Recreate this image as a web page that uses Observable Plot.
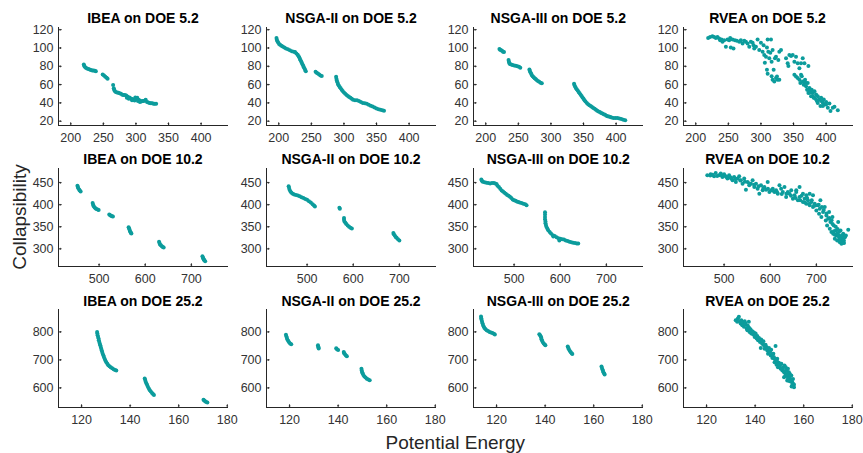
<!DOCTYPE html>
<html>
<head>
<meta charset="utf-8">
<script src="https://cdn.jsdelivr.net/npm/d3@7"></script>
<script src="https://cdn.jsdelivr.net/npm/@observablehq/plot@0.6"></script>
<style>
  html, body { margin: 0; padding: 0; background: #ffffff; }
  #chart { position: relative; width: 863px; height: 453px; overflow: hidden; font-family: "Liberation Sans", Arial, sans-serif; }
  #chart svg.panel { position: absolute; }
  #overlay { position: absolute; left: 0; top: 0; pointer-events: none; }
</style>
</head>
<body>
<div id="chart"></div>
<script>
// ---------- tick labels ----------
const xTicks5 = [200, 250, 300, 350, 400];
const yTicks5 = [20, 40, 60, 80, 100, 120];
const xTicks10 = [500, 600, 700];
const yTicks10 = [300, 350, 400, 450];
const xTicks25 = [120, 140, 160, 180];
const yTicks25 = [600, 700, 800];

// ---------- categories ----------
const algorithms = ["IBEA", "NSGA-II", "NSGA-III", "RVEA"];
const cases = ["5.2", "10.2", "25.2"];

// ---------- series values: [Potential Energy, Collapsibility] ----------
const ibea5 = [[220,82],[220.5,80.5],[221.5,79.5],[223,78.5],[225,77.5],[227,77],[229,76.5],[231,76],[233,75.5],[235,75.5],[237,75],[238.5,74.5],
[249,71],[251,70],[253,68.5],[255,67.5],[256.5,66.5],[265,59.5],
[266,56],[266.5,54.5],[267.5,53],[269,52],[271,51.5],[273,51],[275,50.5],[277,50],[279,49],[281,48.5],[283,48.5],[285,48],[287,47],[288,46],[290,46],[291,45],[293,44.5],[295,44],[297,43.5],[299,46],[300,44],[302,45.5],[304,43.5],[306,42.5],[308,41.5],[310,42],[312,42],[314,42.5],[315,43.5],[317,41],[319,40.5],[321,40],[323,39.5],[325,39.5],[327,39],[329,39],[331,39],
[286,45.5],[289,44.5],[294,43],[298,42.5],[303,42],[306,41]];

const nsga2_5 = [[196.5,111],[197,109],[198,107.5],[199,106],[200.5,104.5],[202,103.5],[204,102.5],[206,101.5],[208.5,100.5],[211,99.5],[214,98.5],[217,97.5],[220,96.5],[223,96],[225,95.5],[227,94],[229,92.5],[230.5,91],[231.5,89.5],[232.5,88],[233.5,86.5],[234.5,85],[235.5,83.5],[236.5,82],[237.5,80.5],[238.5,79],[239.5,77.5],[240.5,76],[241.5,74.5],
[256.5,74],[258,73],[260,72],[262,71],[264,70],[266,69.5],
[288,68.5],[288.5,66.5],[289,64.5],[290,62.5],[291,60.5],[292,59],[293.5,57.5],[295,56],[296.5,54.5],[298,53],[300,51.5],[302,50],[304,48.5],[306,47.5],[308,46.5],[310,45.5],[312,44.5],[314,43.5],[317,43],[320,43],[323,42],[326,41],[329,40],[332,39.5],[335,39],[338,38],[341,37],[344,36],[347,35],[350,34],[353,33],[356,32.5],[359,32],[361.5,31.5]];

const nsga3_5 = [[221,99],[222,98],[223.5,97.5],[225,97],[226.5,96],[228,95.5],
[235,87],[235.5,85],[236,83.5],[237,82.5],[239,82],[241,81.5],[243.5,81],[246,80.5],[248.5,80],[251,79.5],[253,78.5],
[267,76.5],[267.5,75],[268.5,73.5],[269.5,72],[270.5,70.5],[272,69],[273.5,68],[275,67],[276.5,66],[278,65],[280,64],[282,63],[284,62],[286,61.5],
[335.5,61],[336,59.5],[337,58],[338,56.5],[339.5,55],[341,53.5],[342.5,52],[344,50.5],[345.5,49],[347,47.5],[348.5,46],[350,44.5],[351.5,43],[353,41.5],[355,40],[357,38.5],[359,37.5],[361,36.5],[363,35.5],[365,34.5],[367,33.5],[369,32.5],[371,31.5],[373,30.5],[375,30],[377,29],[379,28.5],[381,27.5],[383,27],[385,26],[387,25.5],[389,25],[391,24.5],[393,24],[396,23.5],[399,23.5],[402,23.5],[405,23],[408,22.5],[411,21.5],[414,21]];

const rvea5 = [[219,111],[222,112.1],[225.6,112.8],[228.2,112.1],[230.8,111],[233.3,112.1],[235.9,110.3],[237.4,108.5],[239.5,109.2],[241,106.7],[243.6,108.5],[246.2,101.3],[248.7,109.2],[251.3,108.5],[252.8,111],[253.8,100.6],[256.4,109.2],[257.9,99.5],[260,108.5],[263.1,107.8],[266.7,106.7],[269.2,108.5],[271.8,104.9],[274.4,107.8],[276.9,106.7],[279.5,104.9],[282.1,101.3],[284.6,106.7],[287.2,105.6],[288.7,103.1],[289.7,99.5],[292.3,101.3],[294.9,109.2],[297.4,97.7],[300,105.6],[302.6,95.9],[304.1,103.1],[305.1,92.3],[307.7,90.5],[309.2,100.6],[310.3,109.2],[311.3,95.9],[312.8,88.7],[314.4,94.8],[315.4,109.2],[316.4,85.1],[317.9,97.7],[319.5,76.1],[321.5,88.7],[323.1,90.5],[324.6,68.9],[325.6,65.3],[326.7,86.9],[328.2,95.9],[330.8,97.7],[309.2,76.1],[310.3,71.8],[317.9,65.3],[320.5,63.5],[323.1,67.1],[328.2,65.3],[306,84],[316.4,69],
[338.5,88.7],[341,83.3],[342.1,80.4],[343.6,92.3],[346.2,91.2],[348.7,92.3],[351.3,85.1],[353.8,90.5],[356.4,83.3],[359,77.9],[361.5,83.3],[364.1,88.7],[366.7,83.3],[372.8,80.4],[351.3,70.7],[353.8,68.9],[356.4,67.1],[359,65.3],[360.5,61.7],[361.5,70.7],[364.1,63.5],[365.6,59.9],[367.7,65.3],[369.2,58.1],[370.8,54.5],[371.8,61.7],[372.8,50.9],[374.4,56.3],[375.9,52.7],[376.9,47.3],[377.9,54.5],[379.5,50.9],[381,45.5],[382.1,52.7],[384.6,49.1],[386.2,41.9],[387.2,47.3],[389.7,43.7],[391.3,36.5],[392.3,45.5],[394.9,40.1],[396.4,43.7],[397.4,38.3],[400,40.9],[402.6,34.7],[405.1,39.4],[406.7,31.2],[410.3,34.7],[412.8,35.8],[417.9,31.9],
[362.6,69],[366.7,63.5],[369,61.7],[372,54.5],[374.4,51],[379.5,47.3],[382,45.5],[384.6,43.7],[387.2,40],[392.3,42],[395,36.5],[400,38.3]];

const ibea10 = [[453,443],[454,440],[455,437],[457,434],[458,432],[460,430],
[486,404],[487,400],[488,397],[490,394],[492,392],[494,390],[497,389],[499,388],
[522,378],[524,376],[526,375],[528,374],[530,373],
[564,349],[565,346],[566,343],[567,340],[568,338],[569,336],[570,335],
[630,316],[631,313],[632,310],[634,308],[636,306],[638,304],[640,303],
[724,283],[725,280],[726,278],[727,276],[728,274],[730,272]];

const nsga2_10 = [[460,442],[461,438],[462,434],[464,430],[466,427],[469,425],[472,423],[476,422],[480,421],[484,419],[488,417],[492,415],[496,413],[500,411],[504,408],[508,405],[512,401],[515,398],[517,396],
[570,393],[571,391],
[580,370],[580,366],[581,362],[583,359],[585,356],[588,353],[591,350],[594,348],[597,346],
[687,336],[688,333],[690,330],[692,327],[694,325],[697,322],[700,319]];

const nsga3_10 = [[429,457],[430,454],[432,452],[436,451],[440,450],[444,449],[448,448],[452,449],[456,449],[459,448],[462,447],[464,443],[467,440],[470,436],[473,432],[476,430],[479,427],[482,425],[485,422],[488,420],[491,418],[494,415],[497,412],[500,410],[503,409],[506,407],[509,406],[512,405],[516,404],[520,402],[524,401],[527,399],
[567,383],[567,378],[567,372],[567,367],[568,362],[568,358],[569,354],[570,350],[572,346],[574,342],[577,338],[580,335],[584,331],[588,329],[592,326],[596,324],[600,323],[604,322],[608,321],[612,319],[616,318],[620,316],[624,315],[628,314],[632,313],[636,312],[639,312],[598,319],[585,328]];

const rvea10 = [[463.6,466.7],[470.9,468.9],[478.2,464.4],[481.8,472],[489.1,466.7],[492.7,470.5],[496.4,462.9],[500,468.9],[503.6,464.4],[507.3,459.1],[510.9,466.7],[514.5,461.4],[518.2,455.3],[521.8,462.9],[525.5,451.5],[529.1,459.1],[532.7,464.4],[536.4,455.3],[540,447.7],[543.6,459.1],[547.3,434.1],[550.9,451.5],[554.5,443.9],[558.2,447.7],[561.8,455.3],[565.5,440.2],[569.1,447.7],[572.7,436.4],[576.4,425],[580,443.9],[583.6,432.6],[587.3,440.2],[590.9,434.1],[594.5,451.5],[598.2,428.8],[601.8,432.6],[605.5,436.4],[609.1,428.8],[612.7,432.6],[616.4,425],[620,443.9],[623.6,436.4],[627.3,428.8],[630.9,440.2],[634.5,417.4],[638.2,428.8],[641.8,425],[645.5,432.6],[649.1,413.6],[652.7,421.2],[656.4,428.8],[660,409.8],[663.6,417.4],[670.9,406.1],[674.5,413.6],[678.2,402.3],[681.8,409.8],[685.5,398.5],[689.1,406.1],[692.7,394.7],[696.4,402.3],[700,387.1],[703.6,398.5],[705.8,379.5],[707.3,390.9],[708.7,409.8],[710.9,372],[714.5,383.3],[718.2,394.7],[720.4,364.4],[721.8,375.8],[723.3,353],[725.5,368.2],[727.6,383.3],[729.1,345.5],[730.5,360.6],[732.7,337.9],[734.9,372],[736.4,334.1],[737.8,353],[740,322.7],[742.2,341.7],[743.6,330.3],[745.1,318.9],[747.3,360.6],[749.5,326.5],[750.9,315.2],[752.4,341.7],[754.5,311.4],[756.7,322.7],[758.2,334.1],[759.6,318.9],[761.8,326.5],[764,330.3],[769.1,343.2],[692.7,421.2],[685.5,425],[678.2,421.2],[670.9,425],[663.6,440.2],[656.4,432.6],
[745,335],[748,330],[750,322],[752,318],[755,316],[757,313],[753,325],[746,345],[742,350],[738,340],[735,356],[740,332],[758,320],[760,313],[733,365],[728,370],[722,380],[716,388],[712,395],[705,400],[698,398],[690,410],[680,415],[668,420],[760,328],[755,330],[749,338],
[470,466],[475,468],[485,465],[495,466],[505,463],[515,460],[525,458],[535,455],[545,452],[555,448],[565,445],[575,442],[585,438],[595,436],[605,432],[615,428],[625,424],[635,425],[645,420],[655,415],[665,410],[675,405],[685,402],[695,398]];

const ibea25 = [[126.4,800],[126.5,794],[126.6,788],[126.8,782],[127,776],[127.1,770],[127.3,764],[127.5,758],[127.7,752],[127.9,746],[128.1,740],[128.3,734],[128.5,728],[128.7,722],[129,716],[129.2,710],[129.5,704],[129.8,698],[130.2,692],[130.6,686],[131,681],[131.5,677],[132,674],[132.6,670],[133.2,667],[133.8,664],[134.3,662],
[146,634],[146.2,628],[146.4,622],[146.7,616],[147,610],[147.3,604],[147.7,598],[148.1,592],[148.5,587],[149,582],[149.4,578],[149.8,575],
[170.2,558],[170.5,555],[170.9,552],[171.3,550],[171.8,548]];

const nsga2_25 = [[118.5,790],[118.7,784],[118.9,778],[119.1,773],[119.4,768],[119.8,763],[120.2,759],[120.7,756],
[131.7,752],[131.8,748],[131.9,744],[132,741],
[139.2,742],[139.5,738],[140,735],
[142.3,728],[142.5,724],[142.8,720],[143.2,716],[143.6,713],
[149.6,668],[149.7,662],[149.9,656],[150.1,651],[150.4,646],[150.8,641],[151.3,637],[151.8,633],[152.4,630],[153,627]];

const nsga3_25 = [[113.6,855],[113.7,849],[113.8,843],[114,837],[114.2,831],[114.4,825],[114.7,819],[115,814],[115.4,810],[115.9,806],[116.5,803],[117.1,800],[117.7,798],[118.3,796],[118.9,793],[119.3,791],
[137.6,792],[137.9,788],[138.2,784],[138.4,779],[138.5,774],[138.7,769],[139,764],[139.4,759],[139.8,755],[140.1,752],
[149.3,748],[149.5,743],[149.8,738],[150.1,733],[150.5,728],[150.9,724],[151.2,721],
[163.2,676],[163.4,671],[163.6,666],[163.8,661],[164,656],[164.3,651],[164.5,648]];

const rvea25 = [[132,842],[132.6,836],[132.9,848],[133.3,854],[133.7,838],[134,830],[134.3,842],[134.7,824],[135.1,833.5],[135.4,818],[135.7,838],[136.1,826],[136.5,812],[136.8,806],[137,821.6],[137.4,836],[137.7,800],[138.1,809.6],[138.4,794],[138.8,802.4],[139.2,790.4],[139.5,797.6],[139.8,782],[140.2,794],[140.6,776],[140.9,785.6],[141.2,770],[141.6,778.4],[142,764],[142.3,742.5],[142.5,772.5],[142.9,758],[143.4,766.5],[143.6,752],[143.9,740],[144.3,754.5],[144.7,746],[145,734],[145.3,722],[145.7,742.5],[146.1,728],[146.4,716],[146.6,736.5],[147.1,706.6],[147.5,722],[147.7,710],[148,692],[148.4,749.7],[148.4,698],[148.8,682.6],[149.1,704],[149.4,674],[149.8,690],[150.2,680],[150.5,668],[150.8,686],[151.2,662],[151.6,674],[151.9,656],[152.1,680],[152.6,650],[153,662],[153.2,644],[153.5,668],[153.9,638],[154.3,650],[154.6,632],[154.9,644],[155.3,620],[155.6,632],[155.7,608],[156,602.4],[155.3,610.8],[154.6,622.8],[153.9,656],[153.2,626],[152.6,674],[151.9,638],
[134.5,836],[136,830],[137.5,815],[139,800],[140,790],[141,780],[142,770],[143,760],[144,750],[145,740],[146,730],[147,720],[148,705],[149,695],[150,685],[151,670],[152,660],[153,650],[154,640],[155,628],[155.5,615],[154,625],[153.5,635],[152.5,645],[156,612],[155,605]];

const seriesGrid = [
  [ibea5, nsga2_5, nsga3_5, rvea5],
  [ibea10, nsga2_10, nsga3_10, rvea10],
  [ibea25, nsga2_25, nsga3_25, rvea25]
];

// ---------- layout ----------
const rowSpecs = [
  {xDomain: [181.2, 442], yDomain: [15.3, 122.4], xTicks: xTicks5, yTicks: yTicks5, top: 26.7},
  {xDomain: [412, 780.5], yDomain: [260, 482], xTicks: xTicks10, yTicks: yTicks10, top: 168.2},
  {xDomain: [110.5, 180.5], yDomain: [530, 880], xTicks: xTicks25, yTicks: yTicks25, top: 309.3}
];
const colLeft = [58, 266, 473.3, 682.5];
const W = 170, H = 98;
const ML = 45, MR = 6, MT = 6, MB = 26;
const teal = "#0c9c9c";
const axisColor = "#262626";
const font = "'Liberation Sans', Arial, Helvetica, sans-serif";

const chart = document.getElementById("chart");

rowSpecs.forEach((row, r) => {
  algorithms.forEach((alg, c) => {
    const data = seriesGrid[r][c];
    const svg = Plot.plot({
      width: W + ML + MR,
      height: H + MT + MB,
      marginLeft: ML, marginRight: MR, marginTop: MT, marginBottom: MB,
      x: {domain: row.xDomain},
      y: {domain: row.yDomain},
      style: {fontFamily: font, fontSize: "12.5px", color: "#333333", background: "transparent", overflow: "visible"},
      marks: [
        Plot.axisX({ticks: row.xTicks, tickSize: 0, tickPadding: 7.6, label: null, tickFormat: d => String(d)}),
        Plot.axisY({ticks: row.yTicks, tickSize: 0, tickPadding: 5, label: null, tickFormat: d => String(d)}),
        Plot.ruleY([row.yDomain[0]], {stroke: axisColor, strokeWidth: 1}),
        Plot.ruleX([row.xDomain[0]], {stroke: axisColor, strokeWidth: 1}),
        Plot.vector(row.xTicks, {x: d => d, y: () => row.yDomain[0], length: 2.5, rotate: 0, anchor: "start", stroke: axisColor, strokeWidth: 1}),
        Plot.vector(row.yTicks, {x: () => row.xDomain[0], y: d => d, length: 2.5, rotate: 90, anchor: "start", stroke: axisColor, strokeWidth: 1}),
        Plot.dot(data, {x: d => d[0], y: d => d[1], r: 2, fill: teal, stroke: null})
      ]
    });
    svg.classList.add("panel");
    svg.style.left = (colLeft[c] - ML) + "px";
    svg.style.top = (row.top - MT) + "px";
    chart.appendChild(svg);
  });
});

// ---------- titles and axis labels ----------
const ns = "http://www.w3.org/2000/svg";
const overlay = document.createElementNS(ns, "svg");
overlay.setAttribute("id", "overlay");
overlay.setAttribute("width", 863);
overlay.setAttribute("height", 453);
function addText(txt, x, y, attrs) {
  const t = document.createElementNS(ns, "text");
  t.textContent = txt;
  t.setAttribute("x", x);
  t.setAttribute("y", y);
  t.setAttribute("font-family", font);
  for (const k in attrs) t.setAttribute(k, attrs[k]);
  overlay.appendChild(t);
  return t;
}
rowSpecs.forEach((row, r) => {
  algorithms.forEach((alg, c) => {
    addText(`${alg} on DOE ${cases[r]}`, colLeft[c] + W / 2, row.top - 3.8,
      {"text-anchor": "middle", "font-size": "14px", "font-weight": "bold", fill: "#000"});
  });
});
addText("Potential Energy", (colLeft[0] + colLeft[3] + W) / 2, 449,
  {"text-anchor": "middle", "font-size": "19px", fill: axisColor});
const yl = addText("Collapsibility", 0, 0,
  {"text-anchor": "middle", "font-size": "19px", fill: axisColor});
yl.setAttribute("transform", "translate(25.5,217) rotate(-90)");
chart.appendChild(overlay);
</script>
</body>
</html>
